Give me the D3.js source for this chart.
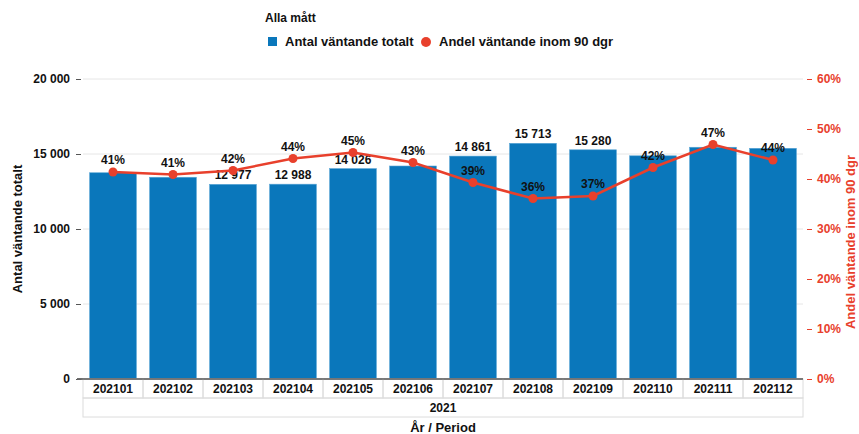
<!DOCTYPE html>
<html>
<head>
<meta charset="utf-8">
<script src="https://cdn.jsdelivr.net/npm/d3@7/dist/d3.min.js"></script>
<style>
  body { margin: 0; background: #fff; }
  text { font-family: "Liberation Sans", Arial, sans-serif; font-weight: bold; }
</style>
</head>
<body>
<div id="chart"></div>
<script>
// data
var periods = ['202101','202102','202103','202104','202105','202106','202107','202108','202109','202110','202111','202112'];
var antal = [13750, 13450, 12977, 12988, 14026, 14200, 14861, 15713, 15280, 14880, 15450, 15380];
// value labels that are visible in the original (others are hidden)
var antalShown = [false, false, true, true, true, false, true, true, true, false, false, false];
var andel = [41.4, 40.9, 41.7, 44.1, 45.3, 43.3, 39.3, 36.1, 36.6, 42.3, 46.9, 43.8];
var year = '2021';
var leftTicks = [0, 5000, 10000, 15000, 20000];
var rightTicks = [0, 10, 20, 30, 40, 50, 60];

var width = 859, height = 434;
var margin = {top: 79, right: 56, bottom: 55, left: 83};
var blue = '#0a77bb', red = '#e8402c';

var svg = d3.select('#chart').append('svg')
  .attr('width', width).attr('height', height);

var x = d3.scaleBand().domain(periods)
  .range([margin.left, width - margin.right]).paddingInner(0.22).paddingOuter(0.11);
var y = d3.scaleLinear().domain([0, 20000]).range([height - margin.bottom, margin.top]);
var y2 = d3.scaleLinear().domain([0, 60]).range([height - margin.bottom, margin.top]);

var fmt = function(v){ return d3.format(',')(v).replace(/,/g, ' '); };

// gridlines
svg.append('g').selectAll('line').data(leftTicks.slice(1)).enter().append('line')
  .attr('x1', margin.left).attr('x2', width - margin.right)
  .attr('y1', function(d){ return y(d); }).attr('y2', function(d){ return y(d); })
  .attr('stroke', '#e6e6e6').attr('stroke-width', 1);

// left axis
var leftAxis = svg.append('g')
  .attr('transform', 'translate(' + (margin.left - 2) + ',0)')
  .call(d3.axisLeft(y).tickValues(leftTicks).tickFormat(fmt).tickSize(5).tickPadding(6));
leftAxis.select('.domain').remove();
leftAxis.selectAll('line').attr('stroke', '#555');
leftAxis.selectAll('text').attr('fill', '#111').style('font-size', '12px');

// right axis
var rightAxis = svg.append('g')
  .attr('transform', 'translate(' + (width - margin.right + 4) + ',0)')
  .call(d3.axisRight(y2).tickValues(rightTicks).tickFormat(function(d){ return d + '%'; }).tickSize(5).tickPadding(5));
rightAxis.select('.domain').remove();
rightAxis.selectAll('line').attr('stroke', red);
rightAxis.selectAll('text').attr('fill', red).style('font-size', '12px');

// bars
svg.append('g').selectAll('rect').data(periods).enter().append('rect')
  .attr('x', function(d){ return x(d); })
  .attr('y', function(d, i){ return y(antal[i]); })
  .attr('width', x.bandwidth())
  .attr('height', function(d, i){ return y(0) - y(antal[i]); })
  .attr('fill', blue)
  .attr('stroke', '#5aa6d6').attr('stroke-width', 0.6);

// baseline
svg.append('line')
  .attr('x1', margin.left - 6).attr('x2', width - margin.right)
  .attr('y1', y(0)).attr('y2', y(0))
  .attr('stroke', '#666').attr('stroke-width', 1.5);

// bar value labels
svg.append('g').selectAll('text').data(periods.filter(function(d, i){ return antalShown[i]; }))
  .enter().append('text')
  .attr('x', function(d){ return x(d) + x.bandwidth() / 2; })
  .attr('y', function(d){ return y(antal[periods.indexOf(d)]) - 5; })
  .attr('text-anchor', 'middle').style('font-size', '12px').attr('fill', '#111')
  .text(function(d){ return fmt(antal[periods.indexOf(d)]); });

// line
var line = d3.line()
  .x(function(d, i){ return x(periods[i]) + x.bandwidth() / 2; })
  .y(function(d){ return y2(d); });
svg.append('path').datum(andel)
  .attr('d', line).attr('fill', 'none')
  .attr('stroke', red).attr('stroke-width', 2.5);
svg.append('g').selectAll('circle').data(andel).enter().append('circle')
  .attr('cx', function(d, i){ return x(periods[i]) + x.bandwidth() / 2; })
  .attr('cy', function(d){ return y2(d); })
  .attr('r', 4.5).attr('fill', red);
svg.append('g').selectAll('text').data(andel).enter().append('text')
  .attr('x', function(d, i){ return x(periods[i]) + x.bandwidth() / 2; })
  .attr('y', function(d){ return y2(d) - 8; })
  .attr('text-anchor', 'middle').style('font-size', '12px').attr('fill', '#111')
  .text(function(d){ return Math.round(d) + '%'; });

// category boxes under the axis
var row1 = y(0), rowH = 19;
var x0 = margin.left, x1 = width - margin.right;
var cats = svg.append('g');
cats.selectAll('rect').data(periods).enter().append('rect')
  .attr('x', function(d, i){ return x0 + i * (x1 - x0) / periods.length; })
  .attr('y', row1)
  .attr('width', (x1 - x0) / periods.length).attr('height', rowH)
  .attr('fill', 'none').attr('stroke', '#dcdcdc');
cats.selectAll('text').data(periods).enter().append('text')
  .attr('x', function(d){ return x(d) + x.bandwidth() / 2; })
  .attr('y', row1 + 14)
  .attr('text-anchor', 'middle').style('font-size', '12px').attr('fill', '#111')
  .text(function(d){ return d; });
svg.append('rect')
  .attr('x', x0).attr('y', row1 + rowH).attr('width', x1 - x0).attr('height', rowH)
  .attr('fill', 'none').attr('stroke', '#dcdcdc');
svg.append('text')
  .attr('x', (x0 + x1) / 2).attr('y', row1 + rowH + 14)
  .attr('text-anchor', 'middle').style('font-size', '12px').attr('fill', '#111')
  .text(year);
svg.append('line')
  .attr('x1', margin.left - 6).attr('x2', x1)
  .attr('y1', row1).attr('y2', row1)
  .attr('stroke', '#666').attr('stroke-width', 1.5);

// axis titles
svg.append('text')
  .attr('x', (x0 + x1) / 2).attr('y', 432)
  .attr('text-anchor', 'middle').style('font-size', '13px').attr('fill', '#111')
  .text('År / Period');
svg.append('text')
  .attr('transform', 'translate(22,' + ((y(0) + y(20000)) / 2) + ') rotate(-90)')
  .attr('text-anchor', 'middle').style('font-size', '13px').attr('fill', '#111')
  .text('Antal väntande totalt');
svg.append('text')
  .attr('transform', 'translate(855,' + ((y(0) + y(20000)) / 2 + 13) + ') rotate(-90)')
  .attr('text-anchor', 'middle').style('font-size', '13px').attr('fill', red)
  .text('Andel väntande inom 90 dgr');

// legend
svg.append('text').attr('x', 265).attr('y', 22)
  .style('font-size', '12px').attr('fill', '#111').text('Alla mått');
svg.append('rect').attr('x', 268).attr('y', 37).attr('width', 9).attr('height', 9).attr('fill', blue);
svg.append('text').attr('x', 285).attr('y', 46)
  .style('font-size', '13px').attr('fill', '#111').text('Antal väntande totalt');
svg.append('circle').attr('cx', 426).attr('cy', 42).attr('r', 5).attr('fill', red);
svg.append('text').attr('x', 439).attr('y', 46)
  .style('font-size', '13px').attr('fill', '#111').text('Andel väntande inom 90 dgr');
</script>
</body>
</html>
